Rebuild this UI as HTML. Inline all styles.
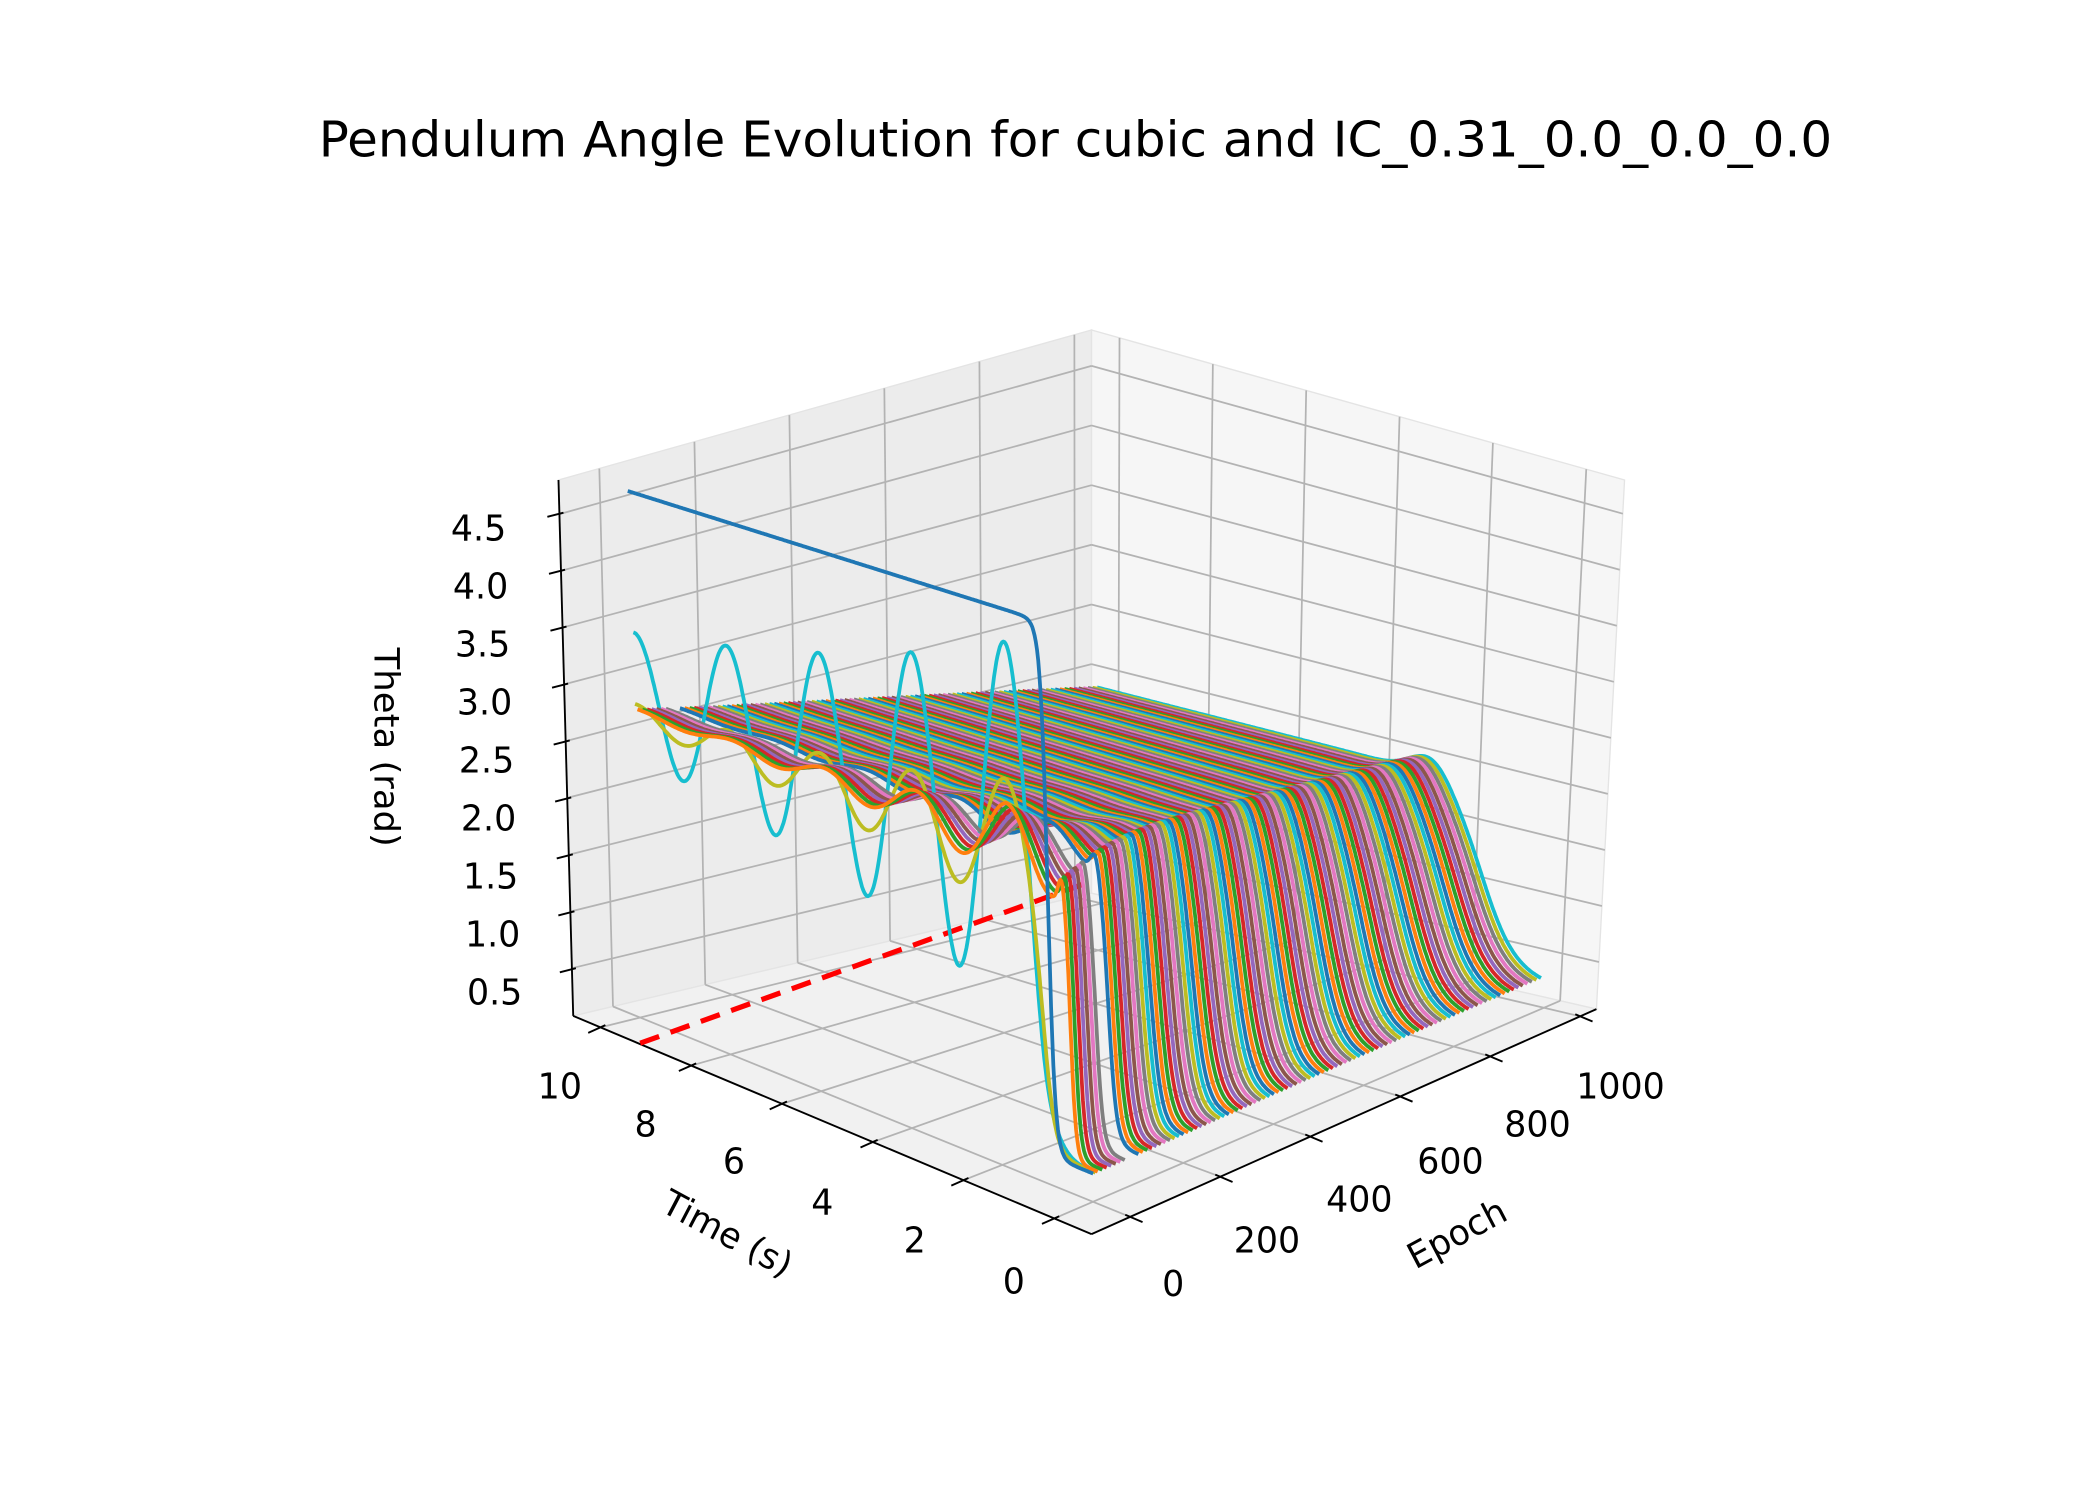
<!DOCTYPE html>
<html><head><meta charset="utf-8"><style>
html,body{margin:0;padding:0;background:#fff;}
svg{display:block;}
text{font-family:"DejaVu Sans","Liberation Sans",sans-serif;fill:#000;}
</style></head><body>
<svg id="s" width="2100" height="1500" viewBox="0 0 1568 1100" preserveAspectRatio="none" xmlns="http://www.w3.org/2000/svg">
<rect x="0" y="0" width="1568" height="1100" fill="#fff"/>
<g id="g"></g>
<text x="803" y="103" font-size="36" text-anchor="middle" dominant-baseline="central" textLength="1130" lengthAdjust="spacingAndGlyphs">Pendulum Angle Evolution for cubic and IC_0.31_0.0_0.0_0.0</text>
<g font-size="26" text-anchor="end" dominant-baseline="central">
<text x="378" y="388">4.5</text><text x="379.5" y="430.5">4.0</text><text x="381" y="473">3.5</text>
<text x="382.5" y="515.5">3.0</text><text x="384" y="558">2.5</text><text x="385.5" y="600.5">2.0</text>
<text x="387" y="643">1.5</text><text x="388.5" y="685.5">1.0</text><text x="390" y="728">0.5</text>
</g>
<g font-size="26" text-anchor="middle" dominant-baseline="central">
<text x="418" y="797">10</text><text x="482" y="825">8</text><text x="548" y="852">6</text>
<text x="614" y="882">4</text><text x="683" y="910">2</text><text x="757" y="940">0</text>
<text x="876" y="942">0</text><text x="946" y="910">200</text><text x="1015" y="880">400</text>
<text x="1083" y="852">600</text><text x="1148" y="825">800</text><text x="1210" y="797">1000</text>
</g>
<g font-size="26" text-anchor="middle" dominant-baseline="central">
<text transform="translate(288,548) rotate(90)">Theta (rad)</text>
<text transform="translate(543,905) rotate(28)">Time (s)</text>
<text transform="translate(1088,905) rotate(-28)">Epoch</text>
</g>
</svg>
<script>
(function(){
var TMIN=-0.82,TMAX=10.6,EMIN=-86,EMAX=1036,ZMIN=0.08,ZMAX=4.80;
var F0=[815,905],L0=[428,745],R0=[1192,740],B0=[815,655];
var F1=[815,475],L1=[417,352],R1=[1213,352],B1=[815,242];
function bil(p,q,F,L,R,B){
 var a=(1-p)*(1-q),b=p*(1-q),c=(1-p)*q,d=p*q;
 return [a*F[0]+b*L[0]+c*R[0]+d*B[0],a*F[1]+b*L[1]+c*R[1]+d*B[1]];}
function Pn(p,q,r){var b=bil(p,q,F0,L0,R0,B0),t=bil(p,q,F1,L1,R1,B1);
 return [b[0]+(t[0]-b[0])*r,b[1]+(t[1]-b[1])*r];}
function P(t,e,z){return Pn((t-TMIN)/(TMAX-TMIN),(e-EMIN)/(EMAX-EMIN),(z-ZMIN)/(ZMAX-ZMIN));}
function f2(v){return v.toFixed(1);}
function pt(a){return f2(a[0])+","+f2(a[1]);}
var out=[];
function poly(pts,fill){out.push('<polygon points="'+pts.map(pt).join(" ")+'" fill="'+fill+'" stroke="#e4e4e4" stroke-width="1"/>');}
function line(a,b,col,w,extra){out.push('<line x1="'+f2(a[0])+'" y1="'+f2(a[1])+'" x2="'+f2(b[0])+'" y2="'+f2(b[1])+'" stroke="'+col+'" stroke-width="'+w+'"'+(extra||'')+'/>');}
poly([L0,L1,B1,B0],"#ececec");
poly([B0,B1,R1,R0],"#f6f6f6");
poly([L0,B0,R0,F0],"#f1f1f1");
var G="#b3b3b3",GW=1.3,i;
var zt=[0.5,1,1.5,2,2.5,3,3.5,4,4.5],tt=[0,2,4,6,8,10],et=[0,200,400,600,800,1000];
for(i=0;i<zt.length;i++){
 line(Pn(1,0,(zt[i]-ZMIN)/(ZMAX-ZMIN)),Pn(1,1,(zt[i]-ZMIN)/(ZMAX-ZMIN)),G,GW);
 line(Pn(1,1,(zt[i]-ZMIN)/(ZMAX-ZMIN)),Pn(0,1,(zt[i]-ZMIN)/(ZMAX-ZMIN)),G,GW);}
for(i=0;i<tt.length;i++){
 line(P(tt[i],EMIN,ZMIN),P(tt[i],EMAX,ZMIN),G,GW);
 line(P(tt[i],EMAX,ZMIN),P(tt[i],EMAX,ZMAX),G,GW);}
for(i=0;i<et.length;i++){
 line(P(TMIN,et[i],ZMIN),P(TMAX,et[i],ZMIN),G,GW);
 line(P(TMAX,et[i],ZMIN),P(TMAX,et[i],ZMAX),G,GW);}
line(L1,L0,"#000",1.4);line(L0,F0,"#000",1.4);line(F0,R0,"#000",1.4);
var u=[0.917,-0.401],v=[-0.924,-0.382];
for(i=0;i<tt.length;i++){var a=P(tt[i],EMIN,ZMIN);
 line([a[0]+4*u[0],a[1]+4*u[1]],[a[0]-10*u[0],a[1]-10*u[1]],"#000",1.4);}
for(i=0;i<et.length;i++){var a=P(TMIN,et[i],ZMIN);
 line([a[0]+4*v[0],a[1]+4*v[1]],[a[0]-10*v[0],a[1]-10*v[1]],"#000",1.4);}
for(i=0;i<9;i++){var y=377+i*41.75,x=417+ (y-352)/393*11;
 line([x-9,y+2],[x+3,y-1],"#000",1.4);}
out.push('<line x1="478" y1="765" x2="810" y2="648" stroke="#ff0000" stroke-width="3.8" stroke-dasharray="15,9"/>');
var tab=['#1f77b4','#ff7f0e','#2ca02c','#d62728','#9467bd','#8c564b','#e377c2','#7f7f7f','#bcbd22','#17becf'];
function sig(x){return 1/(1+Math.exp(-x));}
function th(k,t){var e=10*k,E=e/1000,f;
 if(k==0) return 0.31+4.37*sig((t-1.0)/0.08);
 if(k==9){var A=1.5*Math.exp(-0.128*(t-2));f=2.9+A*Math.cos(Math.PI*(t-10));return 0.31+(f-0.31)*sig((t-1.0)/0.12);}
 if(k==8){f=2.72+0.55*Math.exp(-0.22*(t-2))*Math.cos(Math.PI*(t-2));return 0.31+(f-0.31)*sig((t-1.1)/0.12);}
 var t0=0.6+0.8*E,w=0.06+0.35*E,Pl=2.75-0.85*E;
 var osc=0.35*Math.exp(-e/100)*Math.exp(-0.35*Math.max(0,t-2))*Math.cos(Math.PI*(t-2));
 var bx=(t-(t0+3*w))/(1.5*w);var bump=0.2*Math.exp(-bx*bx);
 f=Pl+osc+bump;return 0.31+(f-0.31)*sig((t-t0)/w);}
function ep(k){return (k==8||k==9)?5:10*k;}
for(var k=99;k>=0;k--){
 var e=ep(k),d="";
 for(var j=0;j<=400;j++){var t=10-j*0.025;var p=P(t,e,th(k,t));d+=(j?"L":"M")+f2(p[0])+" "+f2(p[1]);}
 out.push('<path d="'+d+'" fill="none" stroke="'+tab[k%10]+'" stroke-width="2.8" stroke-linejoin="round"/>');}
document.getElementById("g").innerHTML=out.join("");
})();
</script>
</body></html>
